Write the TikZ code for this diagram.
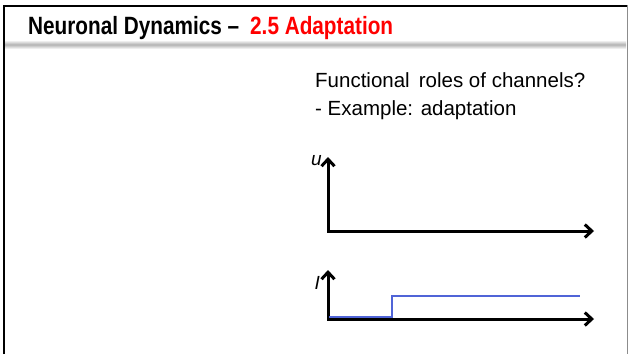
\documentclass[tikz,border=0pt]{standalone}
\usepackage{fontspec}
\setmainfont{Liberation Sans}
\usepackage{xcolor}
\usetikzlibrary{arrows.meta}

\definecolor{stepblue}{RGB}{80,100,215}
\definecolor{titlered}{RGB}{255,0,0}

\begin{document}
\begin{tikzpicture}[
  x=1pt, y=-1pt,
  title/.style={anchor=base west, inner sep=0pt, font=\fontsize{25}{28}\selectfont\bfseries},
  txt/.style={anchor=base west, inner sep=0pt, font=\fontsize{20.5}{28}\selectfont},
  lbl/.style={anchor=base east, inner sep=0pt, font=\fontsize{19}{22}\selectfont\itshape},
  axis/.style={line width=3pt, line cap=round,
    {Straight Barb[length=7pt,width=13pt,line width=3pt]}-{Straight Barb[length=7pt,width=13pt,line width=3pt]}},
  stepline/.style={stepblue, line width=1.6pt}
]
\useasboundingbox (0,0) rectangle (628,354);

% slide frame and title bar
\shade[top color=white, bottom color=white, middle color=black!30] (5,40) rectangle (626,49);
\draw[black!45, line width=1pt] (627,5) -- (627,354);
\draw[line width=2.5pt] (4,354) -- (4,6) -- (627,6);

\node[title] (head) at (28,34.5) {\scalebox{0.83}[1]{Neuronal Dynamics --}};
\node[title, text=titlered] (sect) at (250,34.5) {\scalebox{0.83}[1]{2.5 Adaptation}};

% question
\node[txt] (q1) at (315,87) {Functional\, roles of channels?};
\node[txt] (q2) at (315,115) {- Example: adaptation};

% voltage axes
\coordinate (uo) at (328,231);
\coordinate (uy) at (328,157);
\coordinate (ux) at (594,231);
\draw[axis] (uy) -- (uo) -- (ux);
\node[lbl] (ulbl) at (322,165) {u};

% current axes
\coordinate (io) at (328,319);
\coordinate (iy) at (328,270);
\coordinate (ix) at (594,319);
\draw[axis] (iy) -- (io) -- (ix);
\node[lbl] (ilbl) at (320,289) {I};

% step current
\coordinate (s0) at (329,317);
\coordinate (s1) at (392,317);
\coordinate (s2) at (392,296);
\coordinate (s3) at (580,296);
\draw[stepline] (s0) -- (s1) -- (s2) -- (s3);

\end{tikzpicture}
\end{document}
